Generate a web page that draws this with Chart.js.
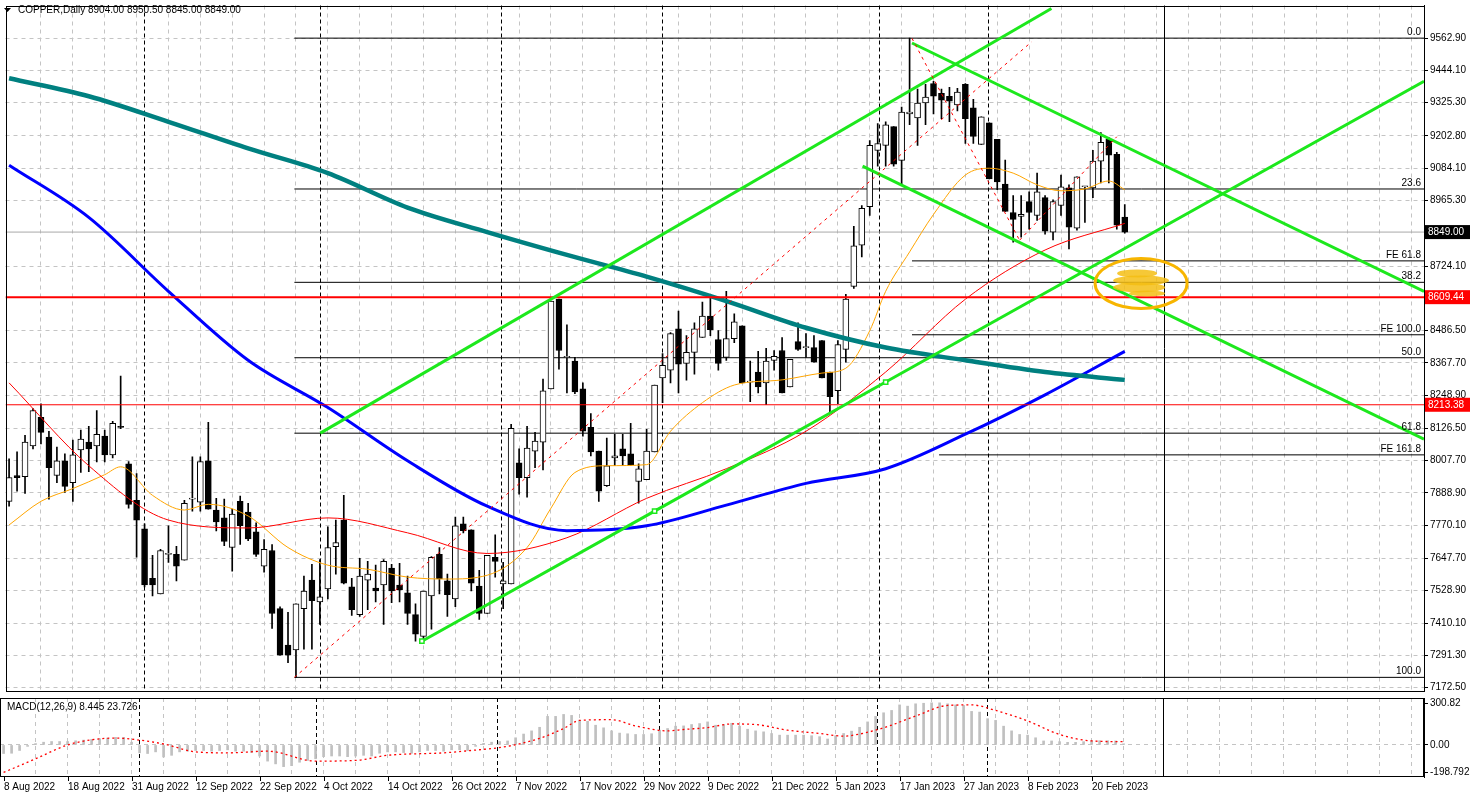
<!DOCTYPE html>
<html><head><meta charset="utf-8">
<script src="https://cdn.jsdelivr.net/npm/chart.js@4/dist/chart.umd.min.js"></script>
<style>
html,body{margin:0;padding:0;background:#fff;width:1470px;height:798px;overflow:hidden}
canvas{position:absolute;left:0}
#main{top:0}
#macd{top:697px}
</style></head><body>
<canvas id="main" width="1470" height="697"></canvas>
<canvas id="macd" width="1470" height="101"></canvas>
<script>
const OPEN=[7858,7953,7949,8062,8167,8094,7953,8007,7927,8047,8076,8062,8098,8029,8134,7996,7862,7757,7575,7517,
7663,7663,7641,7866,7855,8007,7826,7797,7688,7858,7818,7746,7619,7677,7463,7329,7311,7463,7568,7488,
7536,7691,7789,7543,7441,7568,7539,7550,7612,7550,7521,7441,7361,7510,7663,7565,7499,7775,7753,7546,
7445,7652,7554,7554,8000,7945,8043,8076,8272,8602,8388,8374,8272,8130,8043,7916,8018,8051,8033,7931,
7938,8040,8312,8341,8493,8366,8406,8461,8540,8453,8388,8457,8504,8297,8334,8294,8377,8413,8279,8446,
8424,8424,8450,8334,8265,8417,8649,8801,8943,9150,9168,9237,9113,9284,9269,9324,9396,9360,9349,9317,
9393,9306,9172,9251,9190,9026,8921,8907,8961,8910,8976,8849,8947,9012,8863,9016,9012,9110,9190,9135,8904];
const HIGH=[8014,8040,8101,8199,8217,8116,8058,8033,8083,8120,8134,8192,8120,8152,8319,8004,7960,7775,7659,7681,
7768,7692,7862,8022,8022,8149,7869,7866,7829,7877,7851,7779,7717,7699,7470,7449,7481,7583,7626,7644,
7764,7789,7880,7575,7648,7637,7623,7644,7626,7630,7583,7481,7528,7655,7688,7590,7800,7800,7753,7604,
7659,7735,7633,8141,8051,8134,8112,8308,8595,8602,8508,8388,8294,8181,8043,8091,8105,8105,8145,7996,
8123,8286,8402,8479,8558,8468,8515,8591,8620,8486,8631,8548,8504,8374,8410,8421,8413,8461,8381,8515,
8475,8468,8450,8334,8450,8620,8870,8947,9186,9248,9255,9237,9309,9562.9,9375,9393,9404,9375,9382,9378,
9396,9338,9273,9251,9190,9114,8983,8983,8997,9066,8983,8968,9059,9023,9052,9016,9150,9215,9197,9143,8950.5];
const LOW=[7840,7895,7887,8051,8069,7866,7927,7891,7858,7964,7967,8003,8003,8018,8125,7833,7652,7543,7510,7517,
7633,7565,7641,7822,7822,7829,7749,7695,7601,7699,7713,7655,7597,7390,7292,7264,7210,7314,7314,7405,
7499,7590,7554,7438,7434,7459,7488,7405,7485,7488,7405,7343,7343,7387,7517,7434,7470,7742,7528,7423,
7445,7579,7463,7554,7884,7873,7982,7974,8272,8344,8257,8254,8098,8025,7858,7913,7989,7989,7989,7851,
7938,8040,8221,8294,8257,8304,8326,8461,8468,8341,8377,8442,8294,8225,8257,8214,8341,8257,8279,8413,
8388,8370,8312,8185,8217,8370,8642,8758,8910,9092,9092,9092,9026,9244,9168,9244,9284,9266,9255,9295,
9175,9175,9172,9045,9005,8925,8812,8830,8860,8892,8841,8820,8910,8787,8856,8885,8976,9030,9030,8860,8845];
const CLOSE=[7945,7945,8076,8192,8112,7982,8007,7913,8029,8087,8051,8105,8029,8145,8130,7847,7789,7550,7550,7677,
7663,7619,7851,7866,8004,7829,7782,7710,7811,7768,7720,7663,7681,7445,7292,7292,7481,7528,7492,7506,
7688,7706,7557,7459,7583,7590,7528,7637,7528,7532,7445,7369,7528,7652,7572,7514,7768,7750,7557,7445,
7659,7637,7565,8127,7945,8054,8080,8265,8595,8413,8388,8261,8116,8040,7895,7989,8025,8025,7993,7978,
8043,8286,8359,8475,8363,8406,8493,8540,8490,8366,8457,8519,8294,8297,8279,8374,8392,8257,8381,8417,
8424,8370,8312,8243,8435,8602,8798,8936,9168,9175,9244,9099,9291,9291,9324,9346,9349,9335,9331,9364,
9266,9201,9273,9045,9034,8925,8896,8914,8921,8997,8852,8961,9016,8867,9052,9016,9110,9179,9132,8874,8849];

// moving averages: [bar, price]
const MA_TEAL=[[1,9415],[11,9349],[21,9255],[31,9157],[41,9066],[51,8939],[61,8849],[71,8765],[81,8685],[91,8595],[101,8497],[111,8424],[121,8377],[131,8334],[141,8305]];
const MA_BLUE=[[1,9095],[11,8903],[21,8631],[31,8377],[41,8203],[51,8007],[61,7840],[71,7750],[81,7768],[91,7844],[101,7924],[111,7978],[121,8105],[131,8250],[141,8410]];
const MA_RED=[[1,8294],[11,7989],[21,7789],[31,7760],[41,7797],[51,7742],[61,7666],[71,7724],[81,7869],[91,7978],[101,8116],[111,8334],[121,8602],[131,8783],[141,8881]];
const MA_ORANGE=[[1,7771],[5,7858],[9,7905],[13,7956],[15,7985],[19,7880],[23,7826],[26,7847],[31,7804],[36,7688],[41,7623],[46,7608],[51,7579],[56,7572],[61,7586],[66,7688],[69,7833],[72,7964],[76,7989],[81,7993],[84,8116],[88,8221],[92,8286],[98,8305],[103,8330],[106,8348],[109,8486],[111,8631],[114,8776],[117,8914],[121,9059],[124,9084],[127,9066],[130,9023],[133,9001],[136,9008],[139,9037],[141,9005]];

const MACD_MAIN=[-62,-60,-40,-10,10,20,25,25,25,30,35,40,45,50,55,55,20,-57,-62,-50,
-87,-75,-50,-45,-40,-40,-45,-40,-35,-45,-45,-55,-80,-117,-137,-157,-150,-125,-112,-100,
-85,-80,-80,-85,-80,-75,-80,-60,-50,-50,-55,-60,-50,-40,-40,-45,-35,-35,-40,-10,
12,20,25,29,52,79,102,128,207,207,221,214,178,171,143,124,102,86,81,76,
76,81,107,119,136,138,148,155,167,143,148,157,136,114,102,95,83,71,71,71,
71,67,60,43,67,83,100,128,167,207,233,250,290,281,298,302,305,305,298,290,
286,243,238,190,178,136,102,76,71,52,29,29,24,19,19,24,31,31,31,29,8.445];
const MACD_SIGNAL=[[1,-199],[5,-100],[9,0],[12,37],[15,50],[17,42],[21,7],[25,-50],[29,-57],[34,-45],[40,-117],[45,-112],[49,-75],[56,-57],[60,-37],[64,-10],[68,48],[71,119],[73,178],[77,183],[80,138],[84,102],[86,112],[89,126],[92,152],[95,148],[99,107],[103,83],[106,64],[108,79],[111,124],[115,209],[119,286],[122,290],[125,250],[129,174],[133,76],[137,29],[141,23.726]];

const PRICE_TICKS=[9562.9,9444.1,9325.3,9202.8,9084.1,8965.3,8724.1,8486.5,8367.7,8248.9,8126.5,8007.7,7888.9,7770.1,7647.7,7528.9,7410.1,7291.3,7172.5];
const MACD_TICKS=[300.82,0,-198.792];
const MACD_TICK_LABELS=['300.82','0.00','-198.792'];
const DATE_LABELS=['8 Aug 2022','18 Aug 2022','31 Aug 2022','12 Sep 2022','22 Sep 2022','4 Oct 2022','14 Oct 2022','26 Oct 2022','7 Nov 2022','17 Nov 2022','29 Nov 2022','9 Dec 2022','21 Dec 2022','5 Jan 2023','17 Jan 2023','27 Jan 2023','8 Feb 2023','20 Feb 2023'];
const DATE_BARS=[1,9,17,25,33,41,49,57,65,73,81,89,97,105,113,121,129,137];
const SEPARATOR_BARS=[17.9,40.05,62.7,82.9,110.2,123.9];
const SHIFT_BAR=145.9;

const FIB_START=36.8;
const FIB_LEVELS=[9562.9,9007.6,8664.1,8386.5,8108.8,7210];
const FIB_NAMES=['0.0','23.6','38.2','50.0','61.8','100.0'];
const FE_LEVELS=[8743,8471,8029];
const FE_START=[114.3,114.3,117.7];
const FE_NAMES=['FE 61.8','FE 100.0','FE 161.8'];
const HLINE_RED=[8609.44,8213.38];
const BID=8849;
const GREEN_LINES=[[[40.05,8109],[131.8,9672]],[[52.8,7343],[82.0,7822],[111.0,8297],[178.55,9404]],[[114.3,9545],[178.55,8631]],[[108.1,9092],[178.55,8087]]];
const RED_DASH=[[[36.8,7210],[129.3,9549]],[[114.3,9562],[127.8,8819]],[[127.8,8819],[140,9200]]];
const ELLIPSE=[143.05,8660];

const XMIN=0.55,XMAX=178.55;
const FONT='"Liberation Sans", Arial, sans-serif';
const GRID_BARS=[];for(let b=5;b<XMAX;b+=4)GRID_BARS.push(b);
const pts=a=>a.map(p=>({x:p[0],y:p[1]}));
const noPad=s=>{s.paddingTop=0;s.paddingBottom=0;s.paddingLeft=0;s.paddingRight=0;};

function lineDS(points,color,width,extra){return Object.assign({type:'line',data:pts(points),borderColor:color,borderWidth:width,pointRadius:0,fill:false,tension:0},extra||{});}

const ds=[];
ds.push({type:'bar',data:OPEN.map((o,i)=>({x:i+1,y:[LOW[i],HIGH[i]]})),backgroundColor:'#000',barThickness:1,grouped:false,order:9});
ds.push({type:'bar',data:OPEN.map((o,i)=>({x:i+1,y:[o,CLOSE[i]]})),backgroundColor:OPEN.map((o,i)=>CLOSE[i]>=o?'#fff':'#000'),borderColor:'#000',borderWidth:1,borderSkipped:false,barThickness:6,minBarLength:1,grouped:false,order:8});
ds.push(lineDS([[XMIN,BID],[XMAX,BID]],'#a8a8a8',1,{order:12}));
FIB_LEVELS.forEach(v=>ds.push(lineDS([[FIB_START,v],[XMAX,v]],'#000',1,{order:11})));
FE_LEVELS.forEach((v,i)=>ds.push(lineDS([[FE_START[i],v],[XMAX,v]],'#000',1,{order:11})));
ds.push(lineDS([[XMIN,HLINE_RED[0]],[XMAX,HLINE_RED[0]]],'#ff0000',2,{order:4}));
ds.push(lineDS([[XMIN,HLINE_RED[1]],[XMAX,HLINE_RED[1]]],'#ff0000',1,{order:4}));
ds.push(lineDS(MA_TEAL,'#008080',4.5,{cubicInterpolationMode:'monotone',order:5}));
ds.push(lineDS(MA_BLUE,'#0000ff',3,{cubicInterpolationMode:'monotone',order:5}));
ds.push(lineDS(MA_RED,'#ff0000',1,{cubicInterpolationMode:'monotone',order:5}));
ds.push(lineDS(MA_ORANGE,'#ffa500',1,{cubicInterpolationMode:'monotone',order:5}));
GREEN_LINES.forEach((g,i)=>ds.push(lineDS(g,'#1de81d',3,{order:3,pointStyle:'rect',pointRadius:i===1?[3,3,3,0]:0,pointBorderColor:'#1de81d',pointBackgroundColor:'#fff',pointBorderWidth:1.5})));
RED_DASH.forEach(g=>ds.push(lineDS(g,'#ff0000',1,{borderDash:[3,4],order:2})));

function drawSeparators(chart){
  const {ctx,chartArea:a,scales:{x}}=chart;
  ctx.save();ctx.strokeStyle='#000';ctx.lineWidth=1;ctx.setLineDash([4,3]);
  SEPARATOR_BARS.forEach(b=>{const px=Math.round(x.getPixelForValue(b))+0.5;ctx.beginPath();ctx.moveTo(px,a.top);ctx.lineTo(px,a.bottom);ctx.stroke();});
  ctx.setLineDash([]);
  const px=Math.round(x.getPixelForValue(SHIFT_BAR))+0.5;ctx.beginPath();ctx.moveTo(px,a.top);ctx.lineTo(px,a.bottom);ctx.stroke();
  ctx.restore();
}
function drawFrame(chart){
  const {ctx,chartArea:a}=chart;ctx.save();ctx.setLineDash([]);ctx.strokeStyle='#000';ctx.lineWidth=1;
  ctx.strokeRect(Math.round(a.left)+0.5,Math.round(a.top)+0.5,Math.round(a.right-a.left)-1,Math.round(a.bottom-a.top)-1);ctx.restore();
}
function box(ctx,a,y,text,bg){
  ctx.fillStyle=bg;ctx.fillRect(a.right+1,y-7,45,14);
  ctx.fillStyle='#fff';ctx.textAlign='left';ctx.textBaseline='middle';ctx.fillText(text,a.right+4,y+0.5);
}
const mainPlugin={id:'mainDeco',
 beforeDatasetsDraw(chart){drawSeparators(chart);},
 afterDraw(chart){
  const {ctx,chartArea:a,scales:{x,y}}=chart;
  drawFrame(chart);
  ctx.save();ctx.font='10px '+FONT;ctx.fillStyle='#000';ctx.textAlign='right';ctx.textBaseline='alphabetic';
  FIB_LEVELS.forEach((v,i)=>ctx.fillText(FIB_NAMES[i],a.right-3,y.getPixelForValue(v)-3));
  FE_LEVELS.forEach((v,i)=>ctx.fillText(FE_NAMES[i],a.right-3,y.getPixelForValue(v)-3));
  const cx=x.getPixelForValue(ELLIPSE[0]),cy=y.getPixelForValue(ELLIPSE[1]);
  ctx.fillStyle='rgba(245,190,20,0.85)';
  [[-4,-10,20,4],[0,-3,28,5],[-2,4,26,5],[6,10,18,3]].forEach(e=>{ctx.beginPath();ctx.ellipse(cx+e[0],cy+e[1],e[2],e[3],0,0,Math.PI*2);ctx.fill();});
  ctx.strokeStyle='#f7b500';ctx.lineWidth=3;ctx.beginPath();ctx.ellipse(cx,cy,46,25,0,0,Math.PI*2);ctx.stroke();
  ctx.font='10px '+FONT;
  box(ctx,a,y.getPixelForValue(BID),'8849.00','#000');
  box(ctx,a,y.getPixelForValue(HLINE_RED[0]),'8609.44','#ff0000');
  box(ctx,a,y.getPixelForValue(HLINE_RED[1]),'8213.38','#ff0000');
  ctx.fillStyle='#000';ctx.beginPath();ctx.moveTo(4,8);ctx.lineTo(11,8);ctx.lineTo(7.5,12);ctx.closePath();ctx.fill();
  ctx.textAlign='left';ctx.textBaseline='middle';ctx.font='10px '+FONT;
  ctx.fillText('COPPER,Daily',18,10);ctx.fillText('8904.00 8950.50 8845.00 8849.00',88,10);
  ctx.restore();
 }};

new Chart(document.getElementById('main'),{type:'line',data:{datasets:ds},
 options:{responsive:false,animation:false,devicePixelRatio:1,events:[],
  layout:{padding:{top:1,left:0,right:0,bottom:0}},
  plugins:{legend:{display:false},tooltip:{enabled:false}},
  scales:{
   x:{type:'linear',min:XMIN,max:XMAX,offset:false,afterFit:noPad,afterBuildTicks:s=>{s.ticks=GRID_BARS.map(v=>({value:v}));},
      ticks:{display:false},grid:{color:'#c4c4c4',drawTicks:false,offset:false},border:{display:false,dash:[4,4]}},
   y:{type:'linear',position:'right',min:7158,max:9683,afterFit:s=>{s.width=46;noPad(s);},
      afterBuildTicks:s=>{s.ticks=PRICE_TICKS.map(v=>({value:v}));},
      ticks:{color:'#000',font:{family:FONT,size:10},padding:2,callback:v=>Number(v).toFixed(2)},
      grid:{color:'#c4c4c4',tickColor:'#000',tickLength:4,tickBorderDash:[]},border:{display:true,color:'#000',dash:[4,4]}}
  }},plugins:[mainPlugin]});

const macdPlugin={id:'macdDeco',
 beforeDatasetsDraw(chart){drawSeparators(chart);},
 afterDraw(chart){
  const {ctx,chartArea:a,scales:{x}}=chart;drawFrame(chart);
  ctx.save();ctx.font='10px '+FONT;ctx.fillStyle='#000';ctx.textBaseline='middle';ctx.textAlign='left';
  ctx.fillText('MACD(12,26,9) 8.445 23.726',7,10);
  ctx.strokeStyle='#000';ctx.lineWidth=1;
  DATE_BARS.forEach((b,i)=>{const px=Math.round(x.getPixelForValue(b));ctx.beginPath();ctx.moveTo(px+0.5,a.bottom);ctx.lineTo(px+0.5,a.bottom+4);ctx.stroke();ctx.fillText(DATE_LABELS[i],px,a.bottom+10);});
  ctx.restore();
 }};
new Chart(document.getElementById('macd'),{type:'line',data:{datasets:[
  {type:'bar',data:MACD_MAIN.map((v,i)=>({x:i+1,y:v})),backgroundColor:'#c0c0c0',barThickness:2,grouped:false,order:3},
  lineDS(MACD_SIGNAL,'#ff0000',1.3,{borderDash:[2,3],cubicInterpolationMode:'monotone',order:1})]},
 options:{responsive:false,animation:false,devicePixelRatio:1,events:[],
  layout:{padding:{top:1,left:0,right:0,bottom:21}},
  plugins:{legend:{display:false},tooltip:{enabled:false}},
  scales:{
   x:{type:'linear',min:XMIN,max:XMAX,offset:false,afterFit:noPad,afterBuildTicks:s=>{s.ticks=GRID_BARS.map(v=>({value:v}));},
      ticks:{display:false},grid:{color:'#c4c4c4',drawTicks:false,offset:false},border:{display:false,dash:[4,4]}},
   y:{type:'linear',position:'right',min:-232,max:340,afterFit:s=>{s.width=46;noPad(s);},
      afterBuildTicks:s=>{s.ticks=MACD_TICKS.map(v=>({value:v}));},
      ticks:{color:'#000',font:{family:FONT,size:10},padding:2,callback:(v,i)=>MACD_TICK_LABELS[i]},
      grid:{color:c=>c.tick&&c.tick.value===0?'#c4c4c4':'rgba(0,0,0,0)',tickColor:'#000',tickLength:4,tickBorderDash:[]},border:{display:true,color:'#000',dash:[4,4]}}
  }},plugins:[macdPlugin]});
</script></body></html>
